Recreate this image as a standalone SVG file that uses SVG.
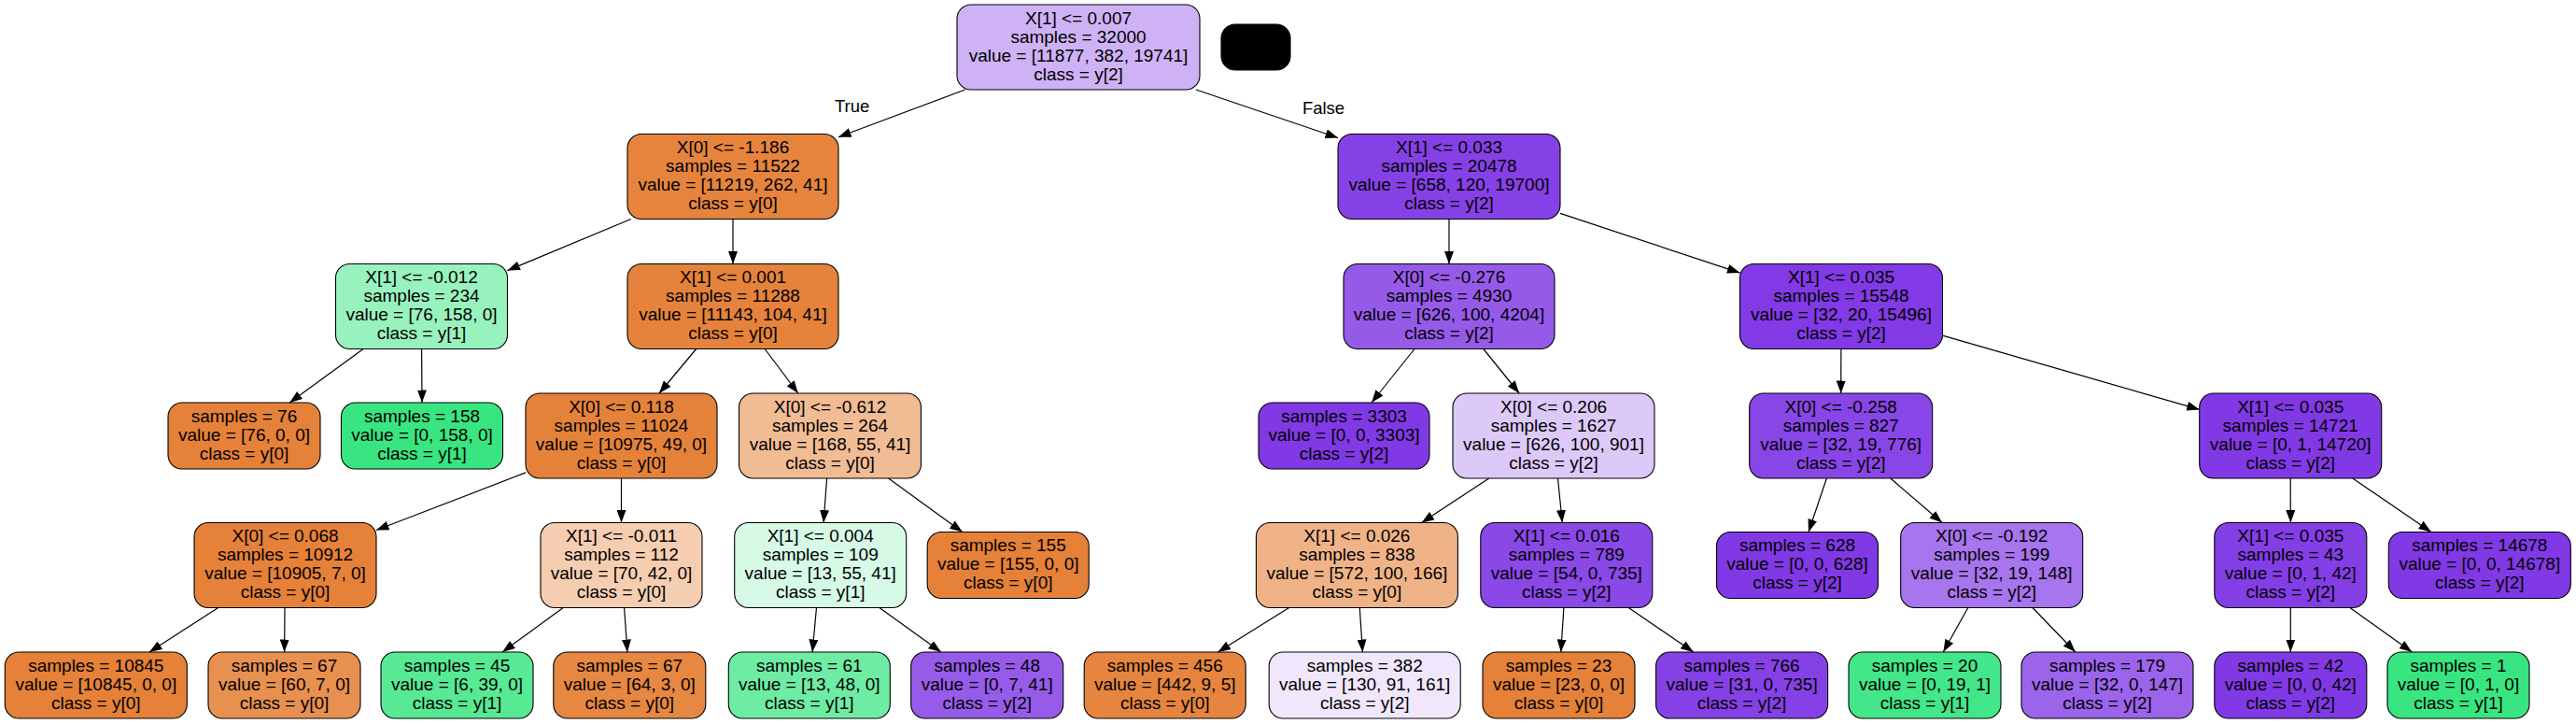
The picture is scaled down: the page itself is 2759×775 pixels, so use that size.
<svg xmlns="http://www.w3.org/2000/svg" width="2759" height="775" viewBox="0 0 2759 775">
<style>
.nd rect{stroke:#000;stroke-width:1.1}
.nd text{font-family:"Liberation Sans",Arial,sans-serif;font-size:19px;text-anchor:middle;fill:#000}
.lbl{font-family:"Liberation Sans",Arial,sans-serif;font-size:18.5px;text-anchor:middle;fill:#000}
#edges line{stroke:#000;stroke-width:1.2;marker-end:url(#ah)}
</style>
<defs>
<marker id="ah" markerWidth="14" markerHeight="10" refX="13.5" refY="5" orient="auto" markerUnits="userSpaceOnUse"><path d="M0,0 L13.5,5 L0,10 z" fill="#000"/></marker>
</defs>
<rect width="2759" height="775" fill="#fff"/>

<g id="n0" class="nd"><rect x="1025" y="5" width="260" height="91" rx="15" fill="#ceb2f5"/><text x="1155" y="25.5">X[1] &lt;= 0.007</text><text x="1155" y="45.5">samples = 32000</text><text x="1155" y="65.5">value = [11877, 382, 19741]</text><text x="1155" y="85.5">class = y[2]</text></g>
<g id="nblack" class="nd"><rect x="1308" y="26" width="74" height="49" rx="15" fill="#000"/></g>

<g id="n1" class="nd"><rect x="672" y="143.5" width="226" height="91" rx="15" fill="#e6843e"/><text x="785" y="164">X[0] &lt;= -1.186</text><text x="785" y="184">samples = 11522</text><text x="785" y="204">value = [11219, 262, 41]</text><text x="785" y="224">class = y[0]</text></g>
<g id="n18" class="nd"><rect x="1433" y="143.5" width="238" height="91" rx="15" fill="#8641e6"/><text x="1552" y="164">X[1] &lt;= 0.033</text><text x="1552" y="184">samples = 20478</text><text x="1552" y="204">value = [658, 120, 19700]</text><text x="1552" y="224">class = y[2]</text></g>

<g id="n2" class="nd"><rect x="359.5" y="282.5" width="184" height="91" rx="15" fill="#98f2be"/><text x="451.5" y="303">X[1] &lt;= -0.012</text><text x="451.5" y="323">samples = 234</text><text x="451.5" y="343">value = [76, 158, 0]</text><text x="451.5" y="363">class = y[1]</text></g>
<g id="n5" class="nd"><rect x="672" y="282.5" width="226" height="91" rx="15" fill="#e5833c"/><text x="785" y="303">X[1] &lt;= 0.001</text><text x="785" y="323">samples = 11288</text><text x="785" y="343">value = [11143, 104, 41]</text><text x="785" y="363">class = y[0]</text></g>
<g id="n19" class="nd"><rect x="1439" y="282.5" width="226" height="91" rx="15" fill="#965ae9"/><text x="1552" y="303">X[0] &lt;= -0.276</text><text x="1552" y="323">samples = 4930</text><text x="1552" y="343">value = [626, 100, 4204]</text><text x="1552" y="363">class = y[2]</text></g>
<g id="n28" class="nd"><rect x="1863.5" y="282.5" width="217" height="91" rx="15" fill="#813ae5"/><text x="1972" y="303">X[1] &lt;= 0.035</text><text x="1972" y="323">samples = 15548</text><text x="1972" y="343">value = [32, 20, 15496]</text><text x="1972" y="363">class = y[2]</text></g>

<g id="n3" class="nd"><rect x="180" y="431" width="163" height="71" rx="15" fill="#e58139"/><text x="261.5" y="451.5">samples = 76</text><text x="261.5" y="471.5">value = [76, 0, 0]</text><text x="261.5" y="491.5">class = y[0]</text></g>
<g id="n4" class="nd"><rect x="365.5" y="431" width="173" height="71" rx="15" fill="#39e581"/><text x="452" y="451.5">samples = 158</text><text x="452" y="471.5">value = [0, 158, 0]</text><text x="452" y="491.5">class = y[1]</text></g>
<g id="n6" class="nd"><rect x="563" y="421" width="205" height="91" rx="15" fill="#e5823a"/><text x="665.5" y="441.5">X[0] &lt;= 0.118</text><text x="665.5" y="461.5">samples = 11024</text><text x="665.5" y="481.5">value = [10975, 49, 0]</text><text x="665.5" y="501.5">class = y[0]</text></g>
<g id="n13" class="nd"><rect x="791.5" y="421" width="195" height="91" rx="15" fill="#f1bb94"/><text x="889" y="441.5">X[0] &lt;= -0.612</text><text x="889" y="461.5">samples = 264</text><text x="889" y="481.5">value = [168, 55, 41]</text><text x="889" y="501.5">class = y[0]</text></g>
<g id="n20" class="nd"><rect x="1348" y="431" width="183" height="71" rx="15" fill="#8139e5"/><text x="1439.5" y="451.5">samples = 3303</text><text x="1439.5" y="471.5">value = [0, 0, 3303]</text><text x="1439.5" y="491.5">class = y[2]</text></g>
<g id="n21" class="nd"><rect x="1556" y="421" width="216" height="91" rx="15" fill="#dcc9f8"/><text x="1664" y="441.5">X[0] &lt;= 0.206</text><text x="1664" y="461.5">samples = 1627</text><text x="1664" y="481.5">value = [626, 100, 901]</text><text x="1664" y="501.5">class = y[2]</text></g>
<g id="n29" class="nd"><rect x="1873.7" y="421" width="196" height="91" rx="15" fill="#8946e7"/><text x="1971.7" y="441.5">X[0] &lt;= -0.258</text><text x="1971.7" y="461.5">samples = 827</text><text x="1971.7" y="481.5">value = [32, 19, 776]</text><text x="1971.7" y="501.5">class = y[2]</text></g>
<g id="n34" class="nd"><rect x="2355.7" y="421" width="195" height="91" rx="15" fill="#8139e5"/><text x="2453.2" y="441.5">X[1] &lt;= 0.035</text><text x="2453.2" y="461.5">samples = 14721</text><text x="2453.2" y="481.5">value = [0, 1, 14720]</text><text x="2453.2" y="501.5">class = y[2]</text></g>

<g id="n7" class="nd"><rect x="208" y="559.5" width="195" height="91" rx="15" fill="#e58139"/><text x="305.5" y="580">X[0] &lt;= 0.068</text><text x="305.5" y="600">samples = 10912</text><text x="305.5" y="620">value = [10905, 7, 0]</text><text x="305.5" y="640">class = y[0]</text></g>
<g id="n10" class="nd"><rect x="579" y="559.5" width="173" height="91" rx="15" fill="#f5cdb0"/><text x="665.5" y="580">X[1] &lt;= -0.011</text><text x="665.5" y="600">samples = 112</text><text x="665.5" y="620">value = [70, 42, 0]</text><text x="665.5" y="640">class = y[0]</text></g>
<g id="n14" class="nd"><rect x="786.7" y="559.5" width="184" height="91" rx="15" fill="#d6fae5"/><text x="878.7" y="580">X[1] &lt;= 0.004</text><text x="878.7" y="600">samples = 109</text><text x="878.7" y="620">value = [13, 55, 41]</text><text x="878.7" y="640">class = y[1]</text></g>
<g id="n17" class="nd"><rect x="993.2" y="569.5" width="173" height="71" rx="15" fill="#e58139"/><text x="1079.7" y="590">samples = 155</text><text x="1079.7" y="610">value = [155, 0, 0]</text><text x="1079.7" y="630">class = y[0]</text></g>
<g id="n22" class="nd"><rect x="1345.4" y="559.5" width="216" height="91" rx="15" fill="#efb387"/><text x="1453.4" y="580">X[1] &lt;= 0.026</text><text x="1453.4" y="600">samples = 838</text><text x="1453.4" y="620">value = [572, 100, 166]</text><text x="1453.4" y="640">class = y[0]</text></g>
<g id="n25" class="nd"><rect x="1585.8" y="559.5" width="184" height="91" rx="15" fill="#8a48e7"/><text x="1677.8" y="580">X[1] &lt;= 0.016</text><text x="1677.8" y="600">samples = 789</text><text x="1677.8" y="620">value = [54, 0, 735]</text><text x="1677.8" y="640">class = y[2]</text></g>
<g id="n30" class="nd"><rect x="1838.5" y="569.5" width="173" height="71" rx="15" fill="#8139e5"/><text x="1925" y="590">samples = 628</text><text x="1925" y="610">value = [0, 0, 628]</text><text x="1925" y="630">class = y[2]</text></g>
<g id="n31" class="nd"><rect x="2035.7" y="559.5" width="195" height="91" rx="15" fill="#a775ed"/><text x="2133.2" y="580">X[0] &lt;= -0.192</text><text x="2133.2" y="600">samples = 199</text><text x="2133.2" y="620">value = [32, 19, 148]</text><text x="2133.2" y="640">class = y[2]</text></g>
<g id="n35" class="nd"><rect x="2371.8" y="559.5" width="163" height="91" rx="15" fill="#843ee6"/><text x="2453.3" y="580">X[1] &lt;= 0.035</text><text x="2453.3" y="600">samples = 43</text><text x="2453.3" y="620">value = [0, 1, 42]</text><text x="2453.3" y="640">class = y[2]</text></g>
<g id="n38" class="nd"><rect x="2558.3" y="569.5" width="195" height="71" rx="15" fill="#8139e5"/><text x="2655.8" y="590">samples = 14678</text><text x="2655.8" y="610">value = [0, 0, 14678]</text><text x="2655.8" y="630">class = y[2]</text></g>

<g id="n8" class="nd"><rect x="5.3" y="698" width="195" height="71" rx="15" fill="#e58139"/><text x="102.8" y="718.5">samples = 10845</text><text x="102.8" y="738.5">value = [10845, 0, 0]</text><text x="102.8" y="758.5">class = y[0]</text></g>
<g id="n9" class="nd"><rect x="223" y="698" width="163" height="71" rx="15" fill="#e89050"/><text x="304.5" y="718.5">samples = 67</text><text x="304.5" y="738.5">value = [60, 7, 0]</text><text x="304.5" y="758.5">class = y[0]</text></g>
<g id="n11" class="nd"><rect x="408" y="698" width="163" height="71" rx="15" fill="#57e994"/><text x="489.5" y="718.5">samples = 45</text><text x="489.5" y="738.5">value = [6, 39, 0]</text><text x="489.5" y="758.5">class = y[1]</text></g>
<g id="n12" class="nd"><rect x="592.8" y="698" width="163" height="71" rx="15" fill="#e68742"/><text x="674.3" y="718.5">samples = 67</text><text x="674.3" y="738.5">value = [64, 3, 0]</text><text x="674.3" y="758.5">class = y[0]</text></g>
<g id="n15" class="nd"><rect x="780.3" y="698" width="173" height="71" rx="15" fill="#6feca3"/><text x="866.8" y="718.5">samples = 61</text><text x="866.8" y="738.5">value = [13, 48, 0]</text><text x="866.8" y="758.5">class = y[1]</text></g>
<g id="n16" class="nd"><rect x="975.7" y="698" width="163" height="71" rx="15" fill="#975be9"/><text x="1057.2" y="718.5">samples = 48</text><text x="1057.2" y="738.5">value = [0, 7, 41]</text><text x="1057.2" y="758.5">class = y[2]</text></g>
<g id="n23" class="nd"><rect x="1161.2" y="698" width="173" height="71" rx="15" fill="#e6853f"/><text x="1247.7" y="718.5">samples = 456</text><text x="1247.7" y="738.5">value = [442, 9, 5]</text><text x="1247.7" y="758.5">class = y[0]</text></g>
<g id="n24" class="nd"><rect x="1359.2" y="698" width="205" height="71" rx="15" fill="#f0e7fc"/><text x="1461.7" y="718.5">samples = 382</text><text x="1461.7" y="738.5">value = [130, 91, 161]</text><text x="1461.7" y="758.5">class = y[2]</text></g>
<g id="n26" class="nd"><rect x="1588" y="698" width="163" height="71" rx="15" fill="#e58139"/><text x="1669.5" y="718.5">samples = 23</text><text x="1669.5" y="738.5">value = [23, 0, 0]</text><text x="1669.5" y="758.5">class = y[0]</text></g>
<g id="n27" class="nd"><rect x="1773.6" y="698" width="184" height="71" rx="15" fill="#8641e6"/><text x="1865.6" y="718.5">samples = 766</text><text x="1865.6" y="738.5">value = [31, 0, 735]</text><text x="1865.6" y="758.5">class = y[2]</text></g>
<g id="n32" class="nd"><rect x="1980" y="698" width="163" height="71" rx="15" fill="#43e688"/><text x="2061.5" y="718.5">samples = 20</text><text x="2061.5" y="738.5">value = [0, 19, 1]</text><text x="2061.5" y="758.5">class = y[1]</text></g>
<g id="n33" class="nd"><rect x="2165" y="698" width="184" height="71" rx="15" fill="#9c64eb"/><text x="2257" y="718.5">samples = 179</text><text x="2257" y="738.5">value = [32, 0, 147]</text><text x="2257" y="758.5">class = y[2]</text></g>
<g id="n36" class="nd"><rect x="2371.8" y="698" width="163" height="71" rx="15" fill="#8139e5"/><text x="2453.3" y="718.5">samples = 42</text><text x="2453.3" y="738.5">value = [0, 0, 42]</text><text x="2453.3" y="758.5">class = y[2]</text></g>
<g id="n37" class="nd"><rect x="2557" y="698" width="152" height="71" rx="15" fill="#39e581"/><text x="2633" y="718.5">samples = 1</text><text x="2633" y="738.5">value = [0, 1, 0]</text><text x="2633" y="758.5">class = y[1]</text></g>

<g id="edges">
<line x1="1033.5" y1="96" x2="898" y2="146.7"/>
<line x1="1281" y1="96" x2="1433" y2="147.5"/>
<line x1="675.8" y1="234.5" x2="543.5" y2="289.6"/>
<line x1="785" y1="234.5" x2="785" y2="282.5"/>
<line x1="389.1" y1="373.5" x2="310.2" y2="431"/>
<line x1="451.6" y1="373.5" x2="452" y2="431"/>
<line x1="745.7" y1="373.5" x2="706" y2="421"/>
<line x1="819.2" y1="373.5" x2="854.8" y2="421"/>
<line x1="563" y1="505.9" x2="403" y2="567.5"/>
<line x1="665.5" y1="512" x2="665.5" y2="559.5"/>
<line x1="233.7" y1="650.5" x2="160" y2="698"/>
<line x1="305" y1="650.5" x2="304.6" y2="698"/>
<line x1="603.2" y1="650.5" x2="538.1" y2="698"/>
<line x1="668.6" y1="650.5" x2="671.9" y2="698"/>
<line x1="885.6" y1="512" x2="882.1" y2="559.5"/>
<line x1="951.6" y1="512" x2="1030.8" y2="569.5"/>
<line x1="874.5" y1="650.5" x2="870.1" y2="698"/>
<line x1="941.9" y1="650.5" x2="1007.9" y2="698"/>
<line x1="1552" y1="234.5" x2="1552" y2="282.5"/>
<line x1="1671" y1="228.4" x2="1863.5" y2="292.1"/>
<line x1="1515" y1="373.5" x2="1469" y2="431"/>
<line x1="1588.8" y1="373.5" x2="1627.2" y2="421"/>
<line x1="1594.8" y1="512" x2="1522.6" y2="559.5"/>
<line x1="1668.5" y1="512" x2="1673.3" y2="559.5"/>
<line x1="1380.6" y1="650.5" x2="1304.5" y2="698"/>
<line x1="1456.3" y1="650.5" x2="1459.4" y2="698"/>
<line x1="1674.9" y1="650.5" x2="1671.8" y2="698"/>
<line x1="1744.3" y1="650.5" x2="1813.7" y2="698"/>
<line x1="1971.9" y1="373.5" x2="1971.7" y2="421"/>
<line x1="2080.5" y1="359.2" x2="2355.7" y2="438.4"/>
<line x1="1956.4" y1="512" x2="1937" y2="569.5"/>
<line x1="2024.8" y1="512" x2="2080.1" y2="559.5"/>
<line x1="2107.8" y1="650.5" x2="2081.3" y2="698"/>
<line x1="2177" y1="650.5" x2="2222.8" y2="698"/>
<line x1="2453.2" y1="512" x2="2453.3" y2="559.5"/>
<line x1="2519.8" y1="512" x2="2603.9" y2="569.5"/>
<line x1="2453.3" y1="650.5" x2="2453.3" y2="698"/>
<line x1="2516.9" y1="650.5" x2="2583.3" y2="698"/>
<text class="lbl" x="912.6" y="120">True</text>
<text class="lbl" x="1417.5" y="121.5">False</text>
</g>
</svg>
